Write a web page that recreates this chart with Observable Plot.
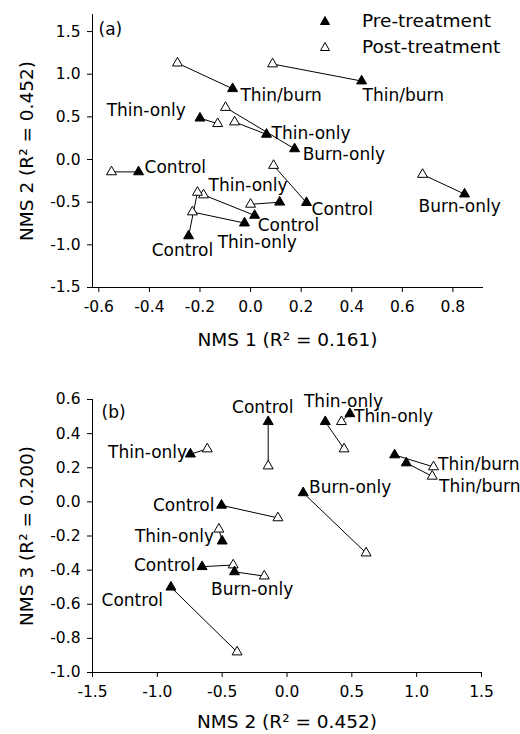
<!DOCTYPE html>
<html><head><meta charset="utf-8">
<script src="https://cdn.jsdelivr.net/npm/d3@7"></script>
<script src="https://cdn.jsdelivr.net/npm/@observablehq/plot@0.6"></script>
<style>
body{margin:0;background:#fff;}
#wrap{position:relative;width:520px;height:734px;font-family:"DejaVu Sans",sans-serif;color:#000;background:#fff;}
#legend{position:absolute;left:317px;top:8px;font-size:18.5px;line-height:26px;}
#legend .row{display:flex;align-items:center;height:26px;}
#legend svg{margin-right:29px;}
[aria-label="x-axis label"] text, [aria-label="y-axis label"] text{font-size:18.5px;}
</style></head><body>
<div id="wrap"><div id="pa"></div><div id="pb"></div>
<div id="legend">
 <div class="row"><svg width="16" height="14"><polygon points="8,2.5 3.5,10.5 12.5,10.5" fill="black" stroke="black"/></svg><span>Pre-treatment</span></div>
 <div class="row"><svg width="16" height="14"><polygon points="8,2.5 3.5,10.5 12.5,10.5" fill="white" stroke="black"/></svg><span>Post-treatment</span></div>
</div></div>
<script>
// treatment of each site (12 sites)
const treatment = ["Thin/burn","Thin/burn","Thin-only","Thin-only","Burn-only","Control","Burn-only","Control","Thin-only","Control","Thin-only","Control"];
// NMS scores, pre and post treatment
const nms1Pre  = [-0.071, 0.439, -0.20, 0.063, 0.174, -0.443, 0.846, 0.221, 0.115, 0.016, -0.024, -0.245];
const nms1Post = [-0.289, 0.087, -0.13, -0.063, -0.099, -0.55, 0.68, 0.091, 0.0, -0.186, -0.23, -0.21];
const nms2Pre  = [0.83, 0.92, 0.485, 0.295, 0.125, -0.145, -0.405, -0.505, -0.50, -0.655, -0.745, -0.895];
const nms2Post = [1.13, 1.12, 0.42, 0.44, 0.61, -0.145, -0.175, -0.07, -0.525, -0.415, -0.615, -0.385];
const nms3Pre  = [0.275, 0.228, 0.516, 0.47, 0.053, 0.47, -0.41, -0.02, -0.23, -0.38, 0.28, -0.50];
const nms3Post = [0.205, 0.15, 0.47, 0.31, -0.30, 0.21, -0.435, -0.094, -0.16, -0.37, 0.31, -0.88];
// label anchors (data units) in each panel
const labelAx = [-0.040, 0.443, -0.569, 0.083, 0.206, -0.419, 0.664, 0.241, -0.166, 0.028, -0.13, -0.391];
const labelAy = [0.75, 0.75, 0.574, 0.30, 0.06, -0.094, -0.55, -0.585, -0.30, -0.775, -0.975, -1.065];
const labelBx = [1.165, 1.173, 0.517, 0.131, 0.17, -0.424, -0.586, -1.034, -1.173, -1.18, -1.38, -1.43];
const labelBy = [0.217, 0.088, 0.498, 0.586, 0.082, 0.55, -0.516, -0.023, -0.205, -0.375, 0.287, -0.58];
// axes
const xTicksA = [-0.6, -0.4, -0.2, 0.0, 0.2, 0.4, 0.6, 0.8];
const yTicksA = [-1.5, -1.0, -0.5, 0.0, 0.5, 1.0, 1.5];
const xTicksB = [-1.5, -1.0, -0.5, 0.0, 0.5, 1.0, 1.5];
const yTicksB = [-1.0, -0.8, -0.6, -0.4, -0.2, 0.0, 0.2, 0.4, 0.6];
const xTitleA = "NMS 1 (R² = 0.161)", yTitleA = "NMS 2 (R² = 0.452)";
const xTitleB = "NMS 2 (R² = 0.452)", yTitleB = "NMS 3 (R² = 0.200)";

const sites = treatment.map((t, i) => ({
  t, n1a: nms1Pre[i], n1b: nms1Post[i], n2a: nms2Pre[i], n2b: nms2Post[i],
  n3a: nms3Pre[i], n3b: nms3Post[i], lax: labelAx[i], lay: labelAy[i], lbx: labelBx[i], lby: labelBy[i]
}));
const fmt = d => d.toFixed(1);
const FONT = "DejaVu Sans";

function panel({fx1, fx2, fy1, fy2, flx, fly, xDomain, yDomain, xTicks, yTicks, xTitle, yTitle, tag, height, mt, mb, mr, tagDx, tagDy, xOff}) {
  return Plot.plot({
    width: 520, height, marginLeft: 92, marginRight: mr, marginTop: mt, marginBottom: mb,
    style: {fontFamily: FONT, fontSize: "15.5px", color: "black", background: "white", overflow: "visible"},
    x: {domain: xDomain, ticks: xTicks, tickFormat: fmt, label: xTitle, labelAnchor: "center", labelArrow: "none", labelOffset: xOff, line: true, tickSize: 5, tickPadding: 8},
    y: {domain: yDomain, ticks: yTicks, tickFormat: fmt, label: yTitle, labelAnchor: "center", labelArrow: "none", labelOffset: 73, line: true, tickSize: 5, tickPadding: 7},
    marks: [
      Plot.link(sites, {x1: fx1, y1: fy1, x2: fx2, y2: fy2, stroke: "black", strokeWidth: 1}),
      Plot.dot(sites, {x: fx2, y: fy2, symbol: "triangle", r: 3.7, fill: "white", stroke: "black", strokeWidth: 1}),
      Plot.dot(sites, {x: fx1, y: fy1, symbol: "triangle", r: 3.7, fill: "black", stroke: "black", strokeWidth: 1}),
      Plot.text(sites, {x: flx, y: fly, text: "t", textAnchor: "start", fontSize: 17, fill: "black"}),
      Plot.text([tag], {text: d => d, frameAnchor: "top-left", dx: tagDx, dy: tagDy, textAnchor: "start", fontSize: 17})
    ]
  });
}

document.getElementById("pa").appendChild(panel({
  fx1: "n1a", fx2: "n1b", fy1: "n2a", fy2: "n2b", flx: "lax", fly: "lay",
  xDomain: [-0.625, 0.917], yDomain: [-1.5, 1.7], xTicks: xTicksA, yTicks: yTicksA,
  xTitle: xTitleA, yTitle: yTitleA, tag: "(a)", height: 360, mt: 14, mb: 73, mr: 38, tagDx: 6, tagDy: 8, xOff: 58
}));
document.getElementById("pb").appendChild(panel({
  fx1: "n2a", fx2: "n2b", fy1: "n3a", fy2: "n3b", flx: "lbx", fly: "lby",
  xDomain: [-1.5, 1.5], yDomain: [-1.0, 0.6], xTicks: xTicksB, yTicks: yTicksB,
  xTitle: xTitleB, yTitle: yTitleB, tag: "(b)", height: 374, mt: 39, mb: 62, mr: 39, tagDx: 9, tagDy: 6, xOff: 55
}));
</script>
</body></html>
